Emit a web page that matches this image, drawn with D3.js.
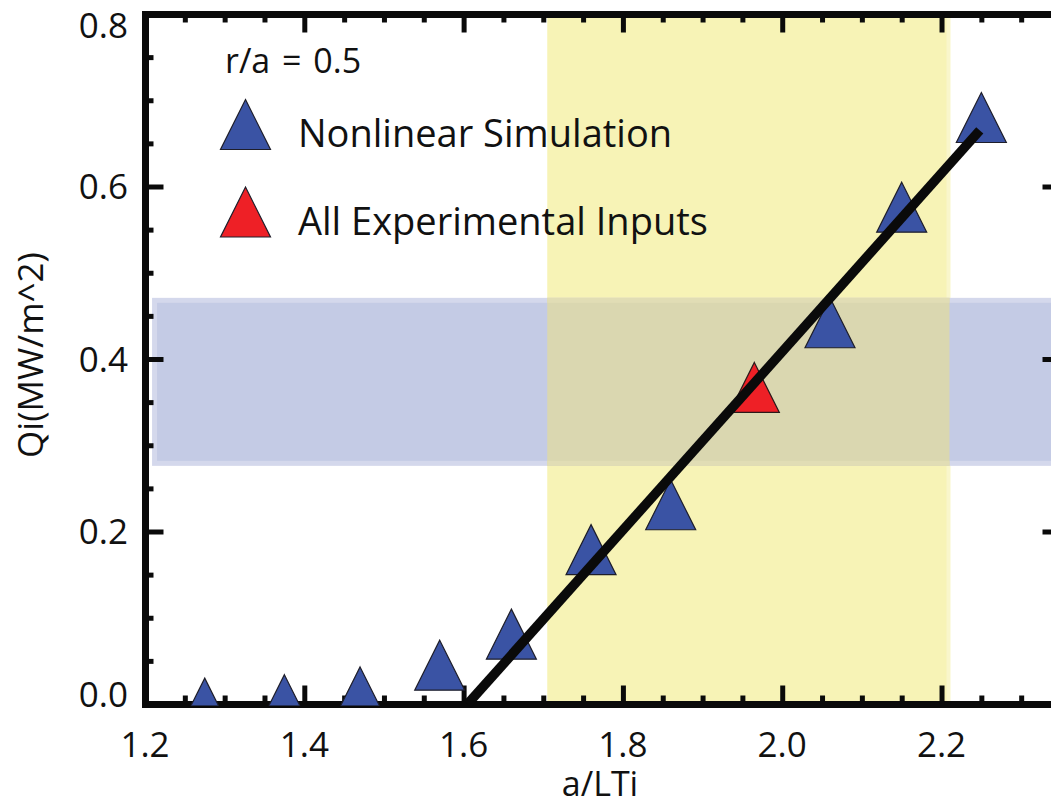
<!DOCTYPE html>
<html>
<head>
<meta charset="utf-8">
<script src="https://cdn.jsdelivr.net/npm/d3@7"></script>
<style>
  body { margin: 0; background: #fff; }
  svg { display: block; }
  text { font-family: "Open Sans", "Noto Sans", sans-serif; fill: #111; }
</style>
</head>
<body>
<svg id="chart" width="1051" height="806"></svg>
<script>
// Ion heat flux vs. normalized temperature gradient at r/a = 0.5
const simGradient = [1.275, 1.375, 1.47, 1.57, 1.66, 1.76, 1.86, 2.06, 2.15, 2.25];
const simFlux     = [0.001, 0.005, 0.014, 0.045, 0.081, 0.179, 0.231, 0.442, 0.576, 0.680];
const expGradient = [1.965];
const expFlux     = [0.367];
const fitGradient = [1.605, 2.248];
const fitFlux     = [0.0, 0.665];
const gradientBand = [1.705, 2.21];   // experimental a/LTi range
const fluxBand     = [0.279, 0.468];  // experimental Qi range
const xTickValues = [1.2, 1.4, 1.6, 1.8, 2.0, 2.2];
const yTickValues = [0.0, 0.2, 0.4, 0.6, 0.8];
const legendLabels = ["Nonlinear Simulation", "All Experimental Inputs"];
const noteLabel = "r/a = 0.5";
const xTitle = "a/LTi";
const yTitle = "Qi(MW/m^2)";

const svg = d3.select("#chart");
const x = d3.scaleLinear().domain([1.2, 2.35]).range([145, 1061]);
const y = d3.scaleLinear().domain([0, 0.8]).range([704, 14]);

const BLUE = "#3a53a4", RED = "#ee2026";
const xMinor = d3.range(1.2, 2.3501, 0.05).filter(v => Math.abs(v * 5 - Math.round(v * 5)) > 1e-6);
const yMinor = d3.range(0, 0.8001, 0.05).filter(v => Math.abs(v * 5 - Math.round(v * 5)) > 1e-6);

// shaded ranges
const bx0 = x(gradientBand[0]), bx1 = x(gradientBand[1]);
const by0 = y(fluxBand[1]), by1 = y(fluxBand[0]);
const fluxLeft = x(1.212);
svg.append("rect").attr("x", bx0).attr("y", y(0.8)).attr("width", bx1 - bx0).attr("height", y(0) - y(0.8))
  .attr("fill", "#f7f3b6");
svg.append("rect").attr("x", bx1 - 3).attr("y", y(0.8)).attr("width", 4).attr("height", y(0) - y(0.8))
  .attr("fill", "#f9f6cb");
svg.append("rect").attr("x", fluxLeft).attr("y", by0).attr("width", x(2.35) - fluxLeft).attr("height", by1 - by0)
  .attr("fill", "#c4cbe5").attr("stroke", "#d4d8ec").attr("stroke-width", 5);
svg.append("rect").attr("x", bx0).attr("y", by0 - 2.5).attr("width", bx1 - bx0).attr("height", by1 - by0 + 5)
  .attr("fill", "#dad7b0").attr("stroke", "none");
svg.append("rect").attr("x", bx0).attr("y", by0 - 2.5).attr("width", bx1 - bx0).attr("height", 5).attr("fill", "#e1ddb5");
svg.append("rect").attr("x", bx0).attr("y", by1 - 2.5).attr("width", bx1 - bx0).attr("height", 5).attr("fill", "#e1ddb5");

// axes: frame with inward ticks
function styleAxis(g) {
  g.select(".domain").attr("stroke", "#0a0a0a").attr("stroke-width", 7).attr("stroke-linecap", "square");
  g.selectAll(".tick line").attr("stroke", "#0a0a0a").attr("stroke-width", 5);
  g.selectAll(".tick text").remove();
}
const MAJ = 18.5, MIN = 8.5;
function frame(axisFn, scale, majors, minors, transform) {
  const gMin = svg.append("g").attr("transform", transform)
    .call(axisFn(scale).tickValues(minors).tickSize(MIN).tickSizeOuter(0).tickFormat(""));
  styleAxis(gMin);
  const gMaj = svg.append("g").attr("transform", transform)
    .call(axisFn(scale).tickValues(majors).tickSize(MAJ).tickSizeOuter(0).tickFormat(""));
  styleAxis(gMaj);
}
frame(d3.axisTop, x, xTickValues, xMinor, `translate(0,${y(0)})`);
frame(d3.axisBottom, x, xTickValues, xMinor, `translate(0,${y(0.8)})`);
frame(d3.axisRight, y, yTickValues, yMinor, `translate(${x(1.2)},0)`);
frame(d3.axisLeft, y, yTickValues, yMinor, `translate(${x(2.35)},0)`);

// tick labels
svg.append("g").selectAll("text").data(xTickValues).join("text")
  .attr("x", d => x(d)).attr("y", 757).attr("text-anchor", "middle")
  .attr("font-size", 35).text(d => d.toFixed(1));
svg.append("g").selectAll("text").data(yTickValues).join("text")
  .attr("x", 128).attr("y", d => y(d) + 12.5 + (d === 0.8 ? 11 : d === 0 ? -10 : 0))
  .attr("text-anchor", "end").attr("font-size", 35).text(d => d.toFixed(1));

// axis titles
svg.append("text").attr("x", (x(1.2) + x(2.35)) / 2 - 3).attr("y", 796).attr("text-anchor", "middle")
  .attr("font-size", 34).text(xTitle);
svg.append("text").attr("transform", `translate(43,355) rotate(-90)`)
  .attr("text-anchor", "middle").attr("font-size", 35).text(yTitle);

// markers
const tri = d3.symbol().type({
  draw(ctx) { ctx.moveTo(0, -25); ctx.lineTo(25, 25); ctx.lineTo(-25, 25); ctx.closePath(); }
});
svg.append("defs").append("clipPath").attr("id", "plotclip")
  .append("rect").attr("x", x(1.2)).attr("y", y(0.8)).attr("width", x(2.35) - x(1.2)).attr("height", y(0) - y(0.8) + 1.5);

const markers = svg.append("g").attr("clip-path", "url(#plotclip)");
markers.selectAll("path.sim").data(d3.zip(simGradient, simFlux)).join("path")
  .attr("class", "sim").attr("d", tri())
  .attr("transform", d => `translate(${x(d[0])},${y(d[1])})`)
  .attr("fill", BLUE).attr("stroke", "#1e1e2a").attr("stroke-width", 1.2);
markers.selectAll("path.exp").data(d3.zip(expGradient, expFlux)).join("path")
  .attr("class", "exp").attr("d", tri())
  .attr("transform", d => `translate(${x(d[0])},${y(d[1])})`)
  .attr("fill", RED).attr("stroke", "#2a1a1a").attr("stroke-width", 1.2);

// linear fit
svg.append("path")
  .datum(d3.zip(fitGradient, fitFlux))
  .attr("d", d3.line().x(d => x(d[0])).y(d => y(d[1])))
  .attr("stroke", "#0a0a0a").attr("stroke-width", 9.5).attr("fill", "none");

// legend
svg.append("text").attr("x", 225).attr("y", 73).attr("font-size", 34)
  .attr("word-spacing", 3).text(noteLabel);
const legendColors = [BLUE, RED];
const legendY = [124.5, 212];
const lg = svg.append("g");
legendLabels.forEach((label, i) => {
  lg.append("path").attr("d", tri()).attr("transform", `translate(245.5,${legendY[i]})`)
    .attr("fill", legendColors[i]).attr("stroke", "#1e1e2a").attr("stroke-width", 1.2);
  lg.append("text").attr("x", 298).attr("y", legendY[i] + 22.5).attr("font-size", 38).text(label);
});
</script>
</body>
</html>
